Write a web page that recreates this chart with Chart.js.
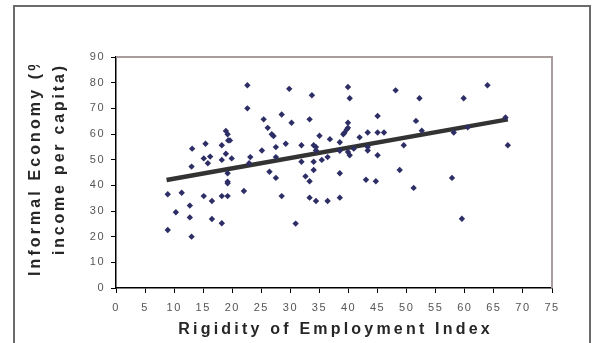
<!DOCTYPE html>
<html>
<head>
<meta charset="utf-8">
<script src="https://cdn.jsdelivr.net/npm/chart.js@4.4.1/dist/chart.umd.min.js"></script>
<style>
  html, body { margin: 0; padding: 0; background: #fff; }
  canvas { display: block; }
</style>
</head>
<body>
<canvas id="chart" width="592" height="343"></canvas>
<script>
// ---------------- DATA ----------------
const rigidity = [
  22.6, 22.6, 29.8, 25.4, 26.1, 26.8, 27.1, 28.5, 29.2, 27.5,
  25.1, 27.5, 23.1, 22.9, 18.9, 19.2, 19.3, 19.6, 18.2, 15.4,
  13.1, 15.1, 16.2, 18.9, 19.9, 18.2, 15.8, 13.0, 19.2, 19.2,
  19.2, 26.4, 27.5, 8.9, 11.3, 15.1, 16.5, 18.2, 19.2, 22.0,
  28.5, 12.7, 10.3, 12.7, 16.5, 18.2, 8.9, 13.0, 33.7, 39.9,
  40.2, 48.1, 30.2, 33.3, 39.9, 39.9, 39.7, 39.3, 39.1, 45.0,
  35.0, 36.8, 41.9, 43.3, 45.0, 46.1, 31.9, 34.0, 34.4, 34.4,
  38.5, 43.3, 43.3, 49.5, 39.9, 40.2, 36.4, 45.0, 31.9, 34.0,
  35.4, 32.6, 33.3, 34.0, 38.5, 43.0, 44.7, 48.8, 33.3, 34.4,
  36.4, 38.5, 30.9, 63.9, 52.2, 59.8, 51.6, 52.6, 58.1, 60.5,
  67.0, 67.4, 51.2, 57.8, 59.5, 38.5, 40.9,
];
const informal = [
  79.0, 70.0, 77.6, 65.7, 62.4, 59.9, 59.2, 67.6, 56.2, 54.9,
  53.6, 51.0, 51.0, 48.6, 61.2, 59.9, 57.5, 57.5, 55.6, 56.2,
  54.3, 50.5, 51.2, 52.3, 50.5, 49.9, 48.6, 47.3, 44.7, 41.4,
  40.8, 45.3, 42.9, 36.5, 37.1, 35.8, 33.9, 35.8, 35.8, 37.8,
  35.8, 32.1, 29.5, 27.5, 26.9, 25.2, 22.6, 20.0, 75.1, 78.3,
  73.9, 77.0, 64.4, 65.7, 64.4, 62.4, 61.8, 60.5, 59.9, 67.0,
  59.3, 58.0, 58.7, 60.6, 60.6, 60.6, 55.6, 55.6, 54.9, 53.6,
  56.8, 54.9, 53.6, 55.6, 53.0, 51.7, 51.0, 51.7, 49.2, 49.2,
  49.9, 43.5, 41.6, 46.0, 44.7, 42.2, 41.6, 46.0, 35.2, 33.9,
  33.9, 35.2, 25.1, 79.0, 73.9, 73.9, 65.1, 61.3, 60.6, 62.6,
  66.4, 55.6, 39.0, 42.9, 27.0, 53.5, 54.3,
];
// linear trend line end points
const trendX = [8.7, 67.4];
const trendY = [42.1, 65.7];

const xTitle = 'Rigidity of Employment Index';
const yTitleLines = ['Informal Economy (% of', 'income per capita)'];

const FONT = '"Liberation Sans", Arial, sans-serif';

// ---------------- PLUGINS ----------------
const frame = {
  id: 'frame',
  beforeDraw(chart) {
    const ctx = chart.ctx;
    ctx.save();
    ctx.strokeStyle = '#6b6b6b';
    ctx.lineWidth = 2;
    ctx.strokeRect(14, 6, 576, 400);
    ctx.restore();
    ctx.letterSpacing = '1.5px';
  },
  afterDraw(chart) {
    const ctx = chart.ctx;
    const a = chart.chartArea;
    ctx.save();
    // top / right edge of plot area
    ctx.strokeStyle = '#a89c9c';
    ctx.lineWidth = 2;
    ctx.beginPath();
    ctx.moveTo(a.left, a.top);
    ctx.lineTo(a.right, a.top);
    ctx.lineTo(a.right, a.bottom);
    ctx.stroke();

    ctx.fillStyle = '#262626';
    ctx.font = 'bold 16px ' + FONT;

    // x title
    ctx.letterSpacing = '3.2px';
    ctx.textAlign = 'center';
    ctx.textBaseline = 'alphabetic';
    ctx.fillText(xTitle, (a.left + a.right) / 2 + 1.6, 334);

    // y title, clipped like the original
    ctx.beginPath();
    ctx.rect(0, 65, a.left, 300);
    ctx.clip();
    ctx.textAlign = 'left';
    [[39.5, 276, '3.1px'], [63.5, 255, '2.8px']].forEach(([x, y, sp], i) => {
      ctx.save();
      ctx.letterSpacing = sp;
      ctx.translate(x, y);
      ctx.rotate(-Math.PI / 2);
      ctx.fillText(yTitleLines[i], 0, 0);
      ctx.restore();
    });
    ctx.restore();
  },
};

// ---------------- CHART ----------------
const tickFont = { family: FONT, size: 11 };

new Chart(document.getElementById('chart'), {
  type: 'scatter',
  data: {
    datasets: [
      {
        label: 'Countries',
        data: rigidity.map((x, i) => ({ x, y: informal[i] })),
        pointStyle: 'rectRot',
        pointRadius: 3.2,
        pointBorderWidth: 0,
        backgroundColor: '#2e2e66',
        borderColor: '#2e2e66',
      },
      {
        type: 'line',
        label: 'Trend',
        data: trendX.map((x, i) => ({ x, y: trendY[i] })),
        borderColor: '#333333',
        borderWidth: 4.5,
        pointRadius: 0,
        fill: false,
      },
    ],
  },
  options: {
    responsive: false,
    animation: false,
    devicePixelRatio: 1,
    layout: { padding: { top: 57, right: 40, left: 0, bottom: 0 } },
    plugins: { legend: { display: false }, tooltip: { enabled: false } },
    scales: {
      x: {
        type: 'linear',
        min: 0,
        max: 75,
        ticks: { stepSize: 5, color: '#555', font: tickFont, padding: 8, maxRotation: 0 },
        grid: { drawOnChartArea: false, drawTicks: true, tickLength: 5, color: '#000' },
        border: { color: '#000', width: 1.5 },
        afterFit: (s) => { s.height = 55; },
      },
      y: {
        min: 0,
        max: 90,
        ticks: { stepSize: 10, color: '#555', font: tickFont, padding: 6 },
        grid: { drawOnChartArea: false, drawTicks: true, tickLength: 5, color: '#000' },
        border: { color: '#000', width: 1.5 },
        afterFit: (s) => { s.width = 116; },
      },
    },
  },
  plugins: [frame],
});
</script>
</body>
</html>
